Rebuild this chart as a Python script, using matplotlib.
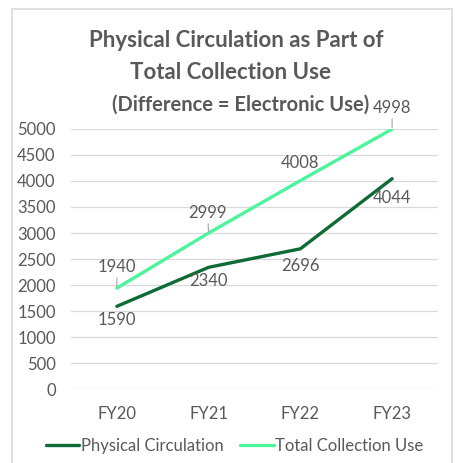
import matplotlib.pyplot as plt
from matplotlib.patches import Rectangle

years = ['FY20', 'FY21', 'FY22', 'FY23']
physical = [1590, 2340, 2696, 4044]
total = [1940, 2999, 4008, 4998]
title_lines = ['Physical Circulation as Part of', 'Total Collection Use',
               '(Difference = Electronic Use)']

dark = '#0E6B35'
light = '#4CF59C'
grey = '#595959'

plt.rcParams['font.family'] = ['Lato', 'DejaVu Sans']

fig = plt.figure(figsize=(4.56, 4.63), dpi=100)
ax = fig.add_axes([0.1557, 0.1598, 0.8048, 0.5616])

# chart border
fig.patches.append(Rectangle((12 / 456, -0.05), 440 / 456, 1.05 - 9 / 463,
                             transform=fig.transFigure, fill=False,
                             edgecolor='#D9D9D9', linewidth=1.2))

x = range(len(years))
ax.plot(x, physical, color=dark, lw=2.4, label='Physical Circulation',
        solid_capstyle='round')
ax.plot(x, total, color=light, lw=2.4, label='Total Collection Use',
        solid_capstyle='round')

# data labels (pixel offsets)
tot_off = [(0, 21), (-1, 20), (0, 18), (0, 21)]
for i, v in enumerate(total):
    ap = None
    if i != 2:
        ap = dict(arrowstyle='-', color='#A6A6A6', lw=0.8, shrinkA=0, shrinkB=1)
    ax.annotate(str(v), (i, v), xytext=tot_off[i], textcoords='offset pixels',
                ha='center', va='center', fontsize=12, color=grey,
                arrowprops=ap)

phys_off = [(0, -14), (0, -14), (0, -17), (0, -19)]
for i, v in enumerate(physical):
    ax.annotate(str(v), (i, v), xytext=phys_off[i], textcoords='offset pixels',
                ha='center', va='center', fontsize=12, color=grey)

ax.set_xlim(-0.5, 3.5)
ax.set_ylim(0, 5000)
ax.set_yticks(range(0, 5001, 500))
ax.set_xticks(list(x))
ax.set_xticklabels(years)
ax.grid(axis='y', color='#D9D9D9', lw=0.9)
ax.set_axisbelow(True)
for s in ax.spines.values():
    s.set_visible(False)
ax.tick_params(length=0, labelsize=12, labelcolor=grey)
ax.tick_params(axis='x', pad=12)
ax.tick_params(axis='y', pad=11)

# title, one line at a time (baselines in pixels from top)
title_y = [47, 79, 111]
title_size = [16, 16, 14.5]
title_x = [236, 231, 241]
for line, yy, sz, xx in zip(title_lines, title_y, title_size, title_x):
    fig.text(xx / 456, 1 - yy / 463, line, ha='center', va='baseline',
             fontsize=sz, fontweight='bold', color=grey)

fig.legend(loc='center', bbox_to_anchor=(0.515, 1 - 446 / 463), ncol=2,
           frameon=False, fontsize=12, labelcolor=grey, handlelength=2.0,
           handletextpad=0.1, columnspacing=1.0)

fig.savefig('out.png', dpi=100)
